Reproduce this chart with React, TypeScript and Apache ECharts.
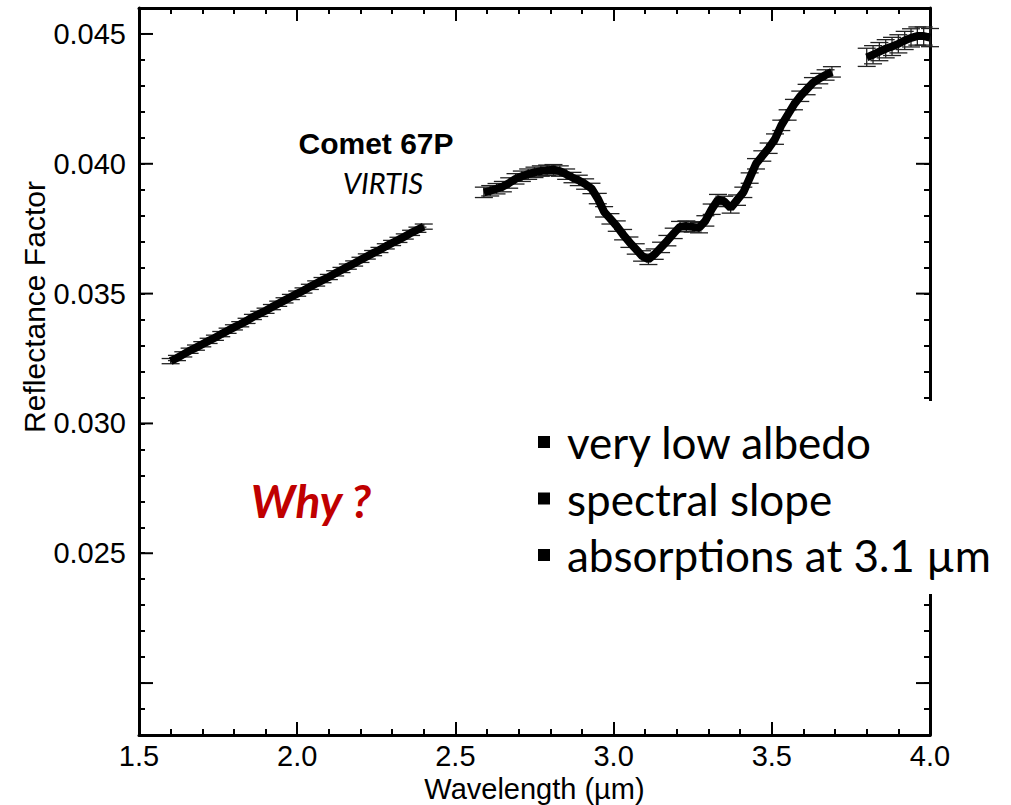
import React, { useEffect, useRef } from "react";
import * as echarts from "echarts";

// ---- data ----
const wl1 = [1.60, 1.62, 1.64, 1.66, 1.68, 1.70, 1.72, 1.74, 1.76, 1.78, 1.80, 1.82, 1.84, 1.86, 1.88, 1.90, 1.92, 1.94, 1.96, 1.98, 2.00, 2.02, 2.04, 2.06, 2.08, 2.10, 2.12, 2.14, 2.16, 2.18, 2.20, 2.22, 2.24, 2.26, 2.28, 2.30, 2.32, 2.34, 2.36, 2.38, 2.40];
const refl1 = [0.03240, 0.03252, 0.03266, 0.03280, 0.03292, 0.03305, 0.03318, 0.03330, 0.03344, 0.03357, 0.03370, 0.03382, 0.03395, 0.03410, 0.03422, 0.03434, 0.03448, 0.03461, 0.03474, 0.03487, 0.03500, 0.03512, 0.03526, 0.03539, 0.03552, 0.03564, 0.03578, 0.03591, 0.03604, 0.03616, 0.03630, 0.03643, 0.03656, 0.03668, 0.03682, 0.03695, 0.03707, 0.03720, 0.03734, 0.03746, 0.03758];
const wl2 = [2.59, 2.61, 2.63, 2.65, 2.67, 2.69, 2.71, 2.73, 2.75, 2.77, 2.79, 2.81, 2.83, 2.85, 2.87, 2.89, 2.91, 2.93, 2.95, 2.97, 2.99, 3.01, 3.03, 3.05, 3.07, 3.09, 3.11, 3.13, 3.15, 3.17, 3.19, 3.21, 3.23, 3.25, 3.27, 3.29, 3.31, 3.33, 3.35, 3.37, 3.39, 3.41, 3.43, 3.45, 3.47, 3.49, 3.51, 3.53, 3.55, 3.57, 3.59, 3.61, 3.63, 3.65, 3.67, 3.69];
const refl2 = [0.03890, 0.03896, 0.03904, 0.03912, 0.03926, 0.03942, 0.03952, 0.03960, 0.03967, 0.03972, 0.03975, 0.03977, 0.03972, 0.03960, 0.03947, 0.03936, 0.03922, 0.03905, 0.03866, 0.03815, 0.03788, 0.03760, 0.03727, 0.03698, 0.03672, 0.03645, 0.03632, 0.03652, 0.03678, 0.03704, 0.03732, 0.03758, 0.03760, 0.03757, 0.03754, 0.03780, 0.03825, 0.03862, 0.03855, 0.03830, 0.03860, 0.03890, 0.03945, 0.04000, 0.04030, 0.04060, 0.04095, 0.04148, 0.04188, 0.04228, 0.04260, 0.04286, 0.04312, 0.04328, 0.04342, 0.04354];
const wl3 = [3.80, 3.82, 3.84, 3.86, 3.88, 3.90, 3.92, 3.94, 3.96, 3.98, 4.00];
const refl3 = [0.04410, 0.04420, 0.04432, 0.04443, 0.04452, 0.04462, 0.04475, 0.04485, 0.04492, 0.04492, 0.04486];
const err1 = 0.0001;
const err2 = 0.0002;
const err3 = 0.00035;

const xTicks = [1.5, 2.0, 2.5, 3.0, 3.5, 4.0];
const yLabelled = [0.025, 0.030, 0.035, 0.040, 0.045];
const yMajor = [0.020, 0.025, 0.030, 0.035, 0.040, 0.045];
const bullets = ["very low albedo", "spectral slope", "absorptions at 3.1 µm"];

const AX = "Liberation Sans, Arial, sans-serif";
const SANS = "Lato, 'Open Sans', sans-serif";

export default function App() {
  const ref = useRef<HTMLDivElement>(null);
  useEffect(() => {
    if (!ref.current) return;
    const chart = echarts.init(ref.current, undefined, { renderer: "svg" });

    const seg = (w: number[], r: number[]) => w.map((x, i) => [x, r[i]]);
    const errSeg = (w: number[], r: number[], e: number) => w.map((x, i) => [x, r[i], e]);

    const lineStyle = { color: "#000", width: 8, cap: "butt" as const };
    const lineSeries = (data: number[][]) => ({
      type: "line",
      data,
      showSymbol: false,
      symbol: "none",
      lineStyle,
      z: 5,
    });
    const errSeries = (data: number[][]) => ({
      type: "custom",
      data,
      z: 4,
      clip: false,
      renderItem: (params: any, api: any) => {
        const x = api.value(0), y = api.value(1), e = api.value(2);
        const hi = api.coord([x, y + e]);
        const lo = api.coord([x, y - e]);
        const hw = 9;
        const st = { stroke: "#222", lineWidth: 1.3 };
        return {
          type: "group",
          children: [
            { type: "line", shape: { x1: hi[0], y1: hi[1], x2: lo[0], y2: lo[1] }, style: st },
            { type: "line", shape: { x1: hi[0] - hw, y1: hi[1], x2: hi[0] + hw, y2: hi[1] }, style: st },
            { type: "line", shape: { x1: lo[0] - hw, y1: lo[1], x2: lo[0] + hw, y2: lo[1] }, style: st },
          ],
        };
      },
    });

    const axisLine = { show: true, lineStyle: { color: "#000", width: 3 } };
    const xCommon = {
      type: "value",
      min: xTicks[0],
      max: xTicks[xTicks.length - 1],
      interval: 0.5,
      axisLine,
      axisTick: { show: true, inside: true, length: 13, lineStyle: { color: "#000", width: 2 } },
      minorTick: { show: true, splitNumber: 5, length: 6, lineStyle: { color: "#000", width: 2 } },
      splitLine: { show: false },
      minorSplitLine: { show: false },
    };
    const yCommon = {
      type: "value",
      min: 0.018,
      max: 0.046,
      interval: 0.001,
      axisLine,
      axisTick: { show: true, inside: true, length: 6, lineStyle: { color: "#000", width: 2 } },
      splitLine: { show: false },
    };

    const option: any = {
      animation: false,
      grid: { left: 139, top: 8, width: 791, height: 727, containLabel: false, outerBoundsMode: "none" },
      xAxis: [
        {
          ...xCommon,
          position: "bottom",
          name: "Wavelength (µm)",
          nameLocation: "middle",
          nameGap: 29,
          nameTextStyle: { fontFamily: AX, fontSize: 29, color: "#000" },
          axisLabel: {
            show: true,
            margin: 6,
            fontFamily: AX,
            fontSize: 29,
            color: "#000",
            formatter: (v: number) => v.toFixed(1),
          },
        },
        { ...xCommon, position: "top", axisLabel: { show: false } },
      ],
      yAxis: [
        {
          ...yCommon,
          position: "left",
          axisLabel: {
            show: true,
            margin: 13,
            fontFamily: AX,
            fontSize: 29,
            color: "#000",
            formatter: (v: number) => {
              const k = Math.round(v * 1000);
              return yLabelled.some((l) => Math.round(l * 1000) === k) ? v.toFixed(3) : "";
            },
          },
        },
        { ...yCommon, position: "right", axisLabel: { show: false } },
      ],
      series: [
        {
          type: "custom",
          data: yMajor.map((v) => [xTicks[0], v]),
          z: 3,
          clip: false,
          silent: true,
          renderItem: (params: any, api: any) => {
            const cs = params.coordSys;
            const p = api.coord([api.value(0), api.value(1)]);
            const st = { stroke: "#000", lineWidth: 2 };
            return {
              type: "group",
              children: [
                { type: "line", shape: { x1: cs.x, y1: p[1], x2: cs.x + 14, y2: p[1] }, style: st },
                { type: "line", shape: { x1: cs.x + cs.width - 14, y1: p[1], x2: cs.x + cs.width, y2: p[1] }, style: st },
              ],
            };
          },
        },
        errSeries(errSeg(wl1, refl1, err1)),
        errSeries(errSeg(wl2, refl2, err2)),
        errSeries(errSeg(wl3, refl3, err3)),
        lineSeries(seg(wl1, refl1)),
        lineSeries(seg(wl2, refl2)),
        lineSeries(seg(wl3, refl3)),
      ],
      graphic: [
        {
          type: "text",
          x: 34,
          y: 307,
          rotation: Math.PI / 2,
          style: {
            text: "Reflectance Factor",
            fontFamily: AX,
            fontSize: 30,
            fill: "#000",
            textAlign: "center",
            textVerticalAlign: "middle",
          },
          z: 100,
        },
        {
          type: "text",
          x: 376,
          y: 143,
          style: {
            text: "Comet 67P",
            fontFamily: AX,
            fontWeight: "bold",
            fontSize: 30,
            fill: "#000",
            textAlign: "center",
            textVerticalAlign: "middle",
          },
          z: 100,
        },
        {
          type: "text",
          x: 383,
          y: 182,
          style: {
            text: "VIRTIS",
            fontFamily: SANS,
            fontStyle: "italic",
            fontSize: 29,
            fill: "#000",
            textAlign: "center",
            textVerticalAlign: "middle",
          },
          z: 100,
        },
        {
          type: "text",
          x: 311,
          y: 500,
          style: {
            text: "Why ?",
            fontFamily: SANS,
            fontStyle: "italic",
            fontWeight: "bold",
            fontSize: 46,
            fill: "#C00000",
            textAlign: "center",
            textVerticalAlign: "middle",
          },
          z: 100,
        },
        {
          type: "rect",
          shape: { x: 528, y: 401, width: 483, height: 193 },
          style: { fill: "#fff" },
          z: 99,
        },
        ...bullets.flatMap((t, i) => [
          {
            type: "rect",
            shape: { x: 538, y: 436 + i * 56.5, width: 12, height: 12 },
            style: { fill: "#000" },
            z: 100,
          },
          {
            type: "text",
            x: 567,
            y: 442 + i * 56.5,
            style: {
              text: t,
              fontFamily: SANS,
              fontSize: 44,
              fill: "#000",
              textAlign: "left",
              textVerticalAlign: "middle",
            },
            z: 100,
          },
        ]),
      ],
    };
    chart.setOption(option);
    return () => chart.dispose();
  }, []);
  return (
    <div
      ref={ref}
      style={{ position: "absolute", left: 0, top: 0, width: 1011, height: 805, background: "#fff" }}
    />
  );
}
